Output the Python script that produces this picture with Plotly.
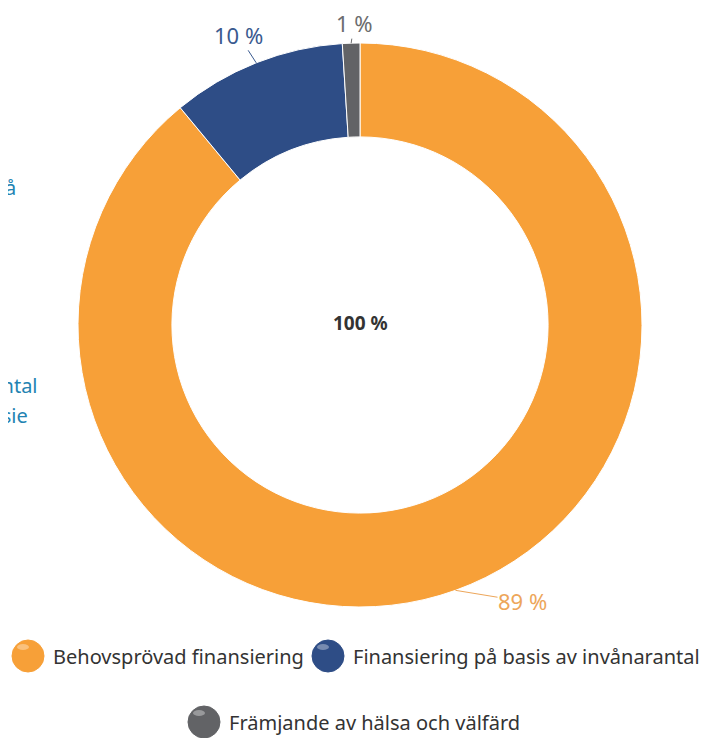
import math
import plotly.graph_objects as go

# ---- data ----
labels = ["Behovsprövad finansiering",
          "Finansiering på basis av invånarantal",
          "Främjande av hälsa och välfärd"]
values = [89, 10, 1]
colors = ["#F7A038", "#2E4D86", "#626366"]
label_colors = ["#EDA65A", "#3A5A8F", "#6B6C6E"]
center_text = "100 %"

# page body has an 8px margin; figure sized to fit the window
OFF = 8
W, H = 705, 730
FONT = "Noto Sans"


def px(x):
    return (x - OFF) / W


def py(y):
    return 1 - (y - OFF) / H


# pie geometry (window pixels)
cx, cy, R = 360, 325, 282

fig = go.Figure()
fig.add_trace(go.Pie(
    labels=labels, values=values, sort=False, direction="clockwise", rotation=0,
    hole=0.667, textinfo="none", hoverinfo="label+percent",
    marker=dict(colors=colors, line=dict(color="white", width=1)),
    domain=dict(x=[px(cx - R), px(cx + R)], y=[py(cy + R), py(cy - R)]),
    showlegend=False,
))

annotations = []
shapes = []

# percentage labels with leader lines, positioned from the data angles
offsets = [(67, 11), (-18, -28), (3, -20)]
total = sum(values)
cum = 0
for i, v in enumerate(values):
    f = (cum + v / 2) / total
    cum += v
    th = 2 * math.pi * f
    ex = cx + R * math.sin(th)
    ey = cy - R * math.cos(th)
    annotations.append(dict(
        x=px(ex), y=py(ey), xref="paper", yref="paper",
        text=f"{round(v / total * 100)} %", showarrow=True, arrowhead=0,
        arrowwidth=1, arrowcolor=label_colors[i], ax=offsets[i][0], ay=offsets[i][1],
        borderpad=0,
        font=dict(family=FONT, size=22, color=label_colors[i]),
    ))

# center label
annotations.append(dict(x=px(cx), y=py(323), xref="paper", yref="paper",
                        text=f"<b>{center_text}</b>", showarrow=False,
                        xanchor="center", yanchor="middle",
                        font=dict(family=FONT, size=19, color="#333333")))

# clipped text of neighbouring chart at left edge
left_texts = [("Finansiering på", 18, 187), ("invånarantal", 40, 385), ("per capita-basie", 30, 415)]
for t, x, y in left_texts:
    annotations.append(dict(x=px(x), y=py(y), xref="paper", yref="paper", text=t,
                            showarrow=False, xanchor="right", yanchor="middle",
                            font=dict(family=FONT, size=20, color="#2383B2")))

# custom legend with round, glossy markers
legend_pos = [(28, 656), (328, 656), (204, 722)]
for i, lab in enumerate(labels):
    lx, ly = legend_pos[i]
    shapes.append(dict(type="circle", xref="paper", yref="paper",
                       xsizemode="pixel", ysizemode="pixel",
                       xanchor=px(lx), yanchor=py(ly),
                       x0=-16, x1=16, y0=-16, y1=16,
                       fillcolor=colors[i], line=dict(color=colors[i], width=1)))
    shapes.append(dict(type="circle", xref="paper", yref="paper",
                       xsizemode="pixel", ysizemode="pixel",
                       xanchor=px(lx), yanchor=py(ly),
                       x0=-11, x1=1, y0=6, y1=12, opacity=0.35,
                       fillcolor="white", line=dict(width=0)))
    annotations.append(dict(x=px(lx + 23), y=py(ly), xref="paper", yref="paper",
                            text=lab, showarrow=False, xanchor="left", yanchor="middle",
                            font=dict(family=FONT, size=20, color="#333333")))

fig.update_layout(
    width=W, height=H, margin=dict(l=0, r=0, t=0, b=0),
    paper_bgcolor="white", plot_bgcolor="white",
    annotations=annotations, shapes=shapes,
)

fig.write_html("out.html")
